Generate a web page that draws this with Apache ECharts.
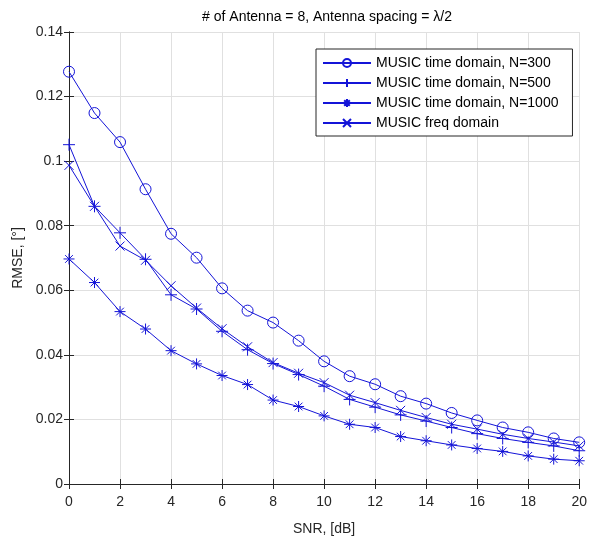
<!DOCTYPE html>
<html><head><meta charset="utf-8">
<script src="https://cdn.jsdelivr.net/npm/echarts@6/dist/echarts.min.js"></script>
<style>html,body{margin:0;padding:0;background:#fff}#c{width:590px;height:543px}</style>
</head><body><div id="c"></div>
<script>
var snr = [0,1,2,3,4,5,6,7,8,9,10,11,12,13,14,15,16,17,18,19,20];
var n300 = [0.1277,0.1149,0.1059,0.0913,0.0775,0.0701,0.0606,0.0537,0.0500,0.0444,0.0380,0.0334,0.0309,0.0272,0.0249,0.0220,0.0197,0.0175,0.0160,0.0141,0.0129];
var n500 = [0.1051,0.0860,0.0778,0.0696,0.0586,0.0542,0.0473,0.0416,0.0373,0.0339,0.0303,0.0262,0.0238,0.0214,0.0195,0.0175,0.0156,0.0141,0.0129,0.0118,0.0103];
var n1000 = [0.0697,0.0624,0.0534,0.0480,0.0413,0.0372,0.0336,0.0308,0.0260,0.0240,0.0211,0.0185,0.0175,0.0147,0.0134,0.0121,0.0110,0.0101,0.0087,0.0077,0.0072];
var freq = [0.0987,0.0860,0.0737,0.0693,0.0614,0.0545,0.0481,0.0425,0.0376,0.0343,0.0314,0.0275,0.0252,0.0228,0.0206,0.0185,0.0170,0.0154,0.0141,0.0130,0.0118];
var names = ['MUSIC time domain, N=300','MUSIC time domain, N=500','MUSIC time domain, N=1000','MUSIC freq domain'];

var blue = '#1414d8';
var font = 'Liberation Sans, Arial, sans-serif';
var PLUS = 'path://M5,0L5,10M0,5L10,5';
var XS = 'path://M0,0L10,10M10,0L0,10';
var AST = 'path://M5,0L5,10M0,5L10,5M1.5,1.5L8.5,8.5M8.5,1.5L1.5,8.5';

function pairs(arr){ return snr.map(function(x,i){ return [x, arr[i]]; }); }
function mk(name, data, symbol, size, fill){
  return {
    name: name, type: 'line', data: pairs(data),
    symbol: symbol, symbolSize: size,
    lineStyle: {color: blue, width: 1},
    itemStyle: {color: fill, borderColor: blue, borderWidth: 1},
    emphasis: {disabled: true}, animation: false
  };
}
var chart = echarts.init(document.getElementById('c'), null, {renderer: 'canvas'});
var axisCommon = {
  axisLine: {show: true, lineStyle: {color: '#262626', width: 1}},
  axisTick: {show: true, inside: true, length: 5, lineStyle: {color: '#262626'}},
};
chart.setOption({
  animation: false,
  backgroundColor: '#fff',
  title: {
    text: '# of Antenna = 8, Antenna spacing = \u03bb/2',
    left: 322, top: 5, textAlign: 'center',
    textStyle: {fontFamily: font, fontSize: 14, fontWeight: 'normal', color: '#000'}
  },
  legend: {
    orient: 'vertical', left: 316, top: 49,
    padding: [7, 14, 6, 6], itemGap: 6,
    itemWidth: 48, itemHeight: 10,
    borderColor: '#262626', borderWidth: 1, backgroundColor: '#fff',
    textStyle: {fontFamily: font, fontSize: 14, color: '#000'},
    data: names
  },
  grid: {left: 69, right: 8, top: 32, bottom: 59, containLabel: false},
  xAxis: [
    Object.assign({
      type: 'value', min: 0, max: 20, interval: 2,
      name: 'SNR, [dB]', nameLocation: 'middle', nameGap: 38,
      nameTextStyle: {fontFamily: font, fontSize: 14, color: '#262626'},
      axisLabel: {fontFamily: font, fontSize: 14, color: '#262626', margin: 11},
      splitLine: {show: true, lineStyle: {color: '#e0e0e0', width: 1}}
    }, axisCommon),
    Object.assign({
      type: 'value', min: 0, max: 20, interval: 2, position: 'top',
      axisLabel: {show: false}, splitLine: {show: false}
    }, axisCommon)
  ],
  yAxis: [
    Object.assign({
      type: 'value', min: 0, max: 0.14, interval: 0.02,
      name: 'RMSE, [\u00b0]', nameLocation: 'middle', nameGap: 44,
      nameTextStyle: {fontFamily: font, fontSize: 14, color: '#262626'},
      axisLabel: {fontFamily: font, fontSize: 14, color: '#262626', margin: 6},
      splitLine: {show: true, lineStyle: {color: '#e0e0e0', width: 1}}
    }, axisCommon),
    Object.assign({
      type: 'value', min: 0, max: 0.14, interval: 0.02, position: 'right',
      axisLabel: {show: false}, splitLine: {show: false}
    }, axisCommon)
  ],
  series: [
    mk(names[0], n300, 'circle', 11, 'rgba(0,0,0,0)'),
    mk(names[1], n500, PLUS, 12, 'none'),
    mk(names[2], n1000, AST, 11, 'none'),
    mk(names[3], freq, XS, 9, 'none')
  ]
});
</script></body></html>
